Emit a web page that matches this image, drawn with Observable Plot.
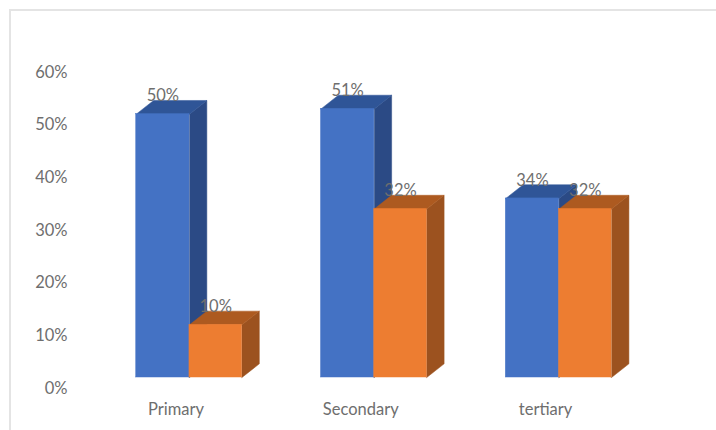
<!DOCTYPE html>
<html>
<head>
<meta charset="utf-8">
<script src="https://cdn.jsdelivr.net/npm/d3@7"></script>
<script src="https://cdn.jsdelivr.net/npm/@observablehq/plot@0.6"></script>
<style>
  html, body { margin: 0; padding: 0; background: #fff; }
  #chart { position: relative; width: 716px; height: 430px; overflow: hidden; }
  #chart svg { display: block; position: absolute; left: 0; top: 0; background: transparent; }
  #edge { position: absolute; left: 9px; top: 9px; right: -4px; bottom: -4px; border: 2px solid #e4e4e4; }
</style>
</head>
<body>
<div id="chart"><div id="edge"></div></div>
<script>
const categories = ["Primary", "Secondary", "tertiary"];
const blueValues = [50, 51, 34];
const orangeValues = [10, 32, 32];
const yTicks = [0, 10, 20, 30, 40, 50, 60];

const blueWidth = 0.288;    // group units
const orangeWidth = 0.284;  // group units
const depthX = 0.094;       // group units
const depthY = 2.6;         // percent units

const fontFamily = "Lato, 'Open Sans', sans-serif";
const grey = "#6e6e6e";

function series(values, start, width, front, top, side) {
  const bars = values.map((v, i) => ({cat: i, v, x1: i + start, x2: i + start + width}));
  const topPts = bars.flatMap(b => [
    {id: b.cat, x: b.x1, y: b.v},
    {id: b.cat, x: b.x1 + depthX, y: b.v + depthY},
    {id: b.cat, x: b.x2 + depthX, y: b.v + depthY},
    {id: b.cat, x: b.x2, y: b.v}
  ]);
  const sidePts = bars.flatMap(b => [
    {id: b.cat, x: b.x2, y: 0},
    {id: b.cat, x: b.x2 + depthX, y: depthY},
    {id: b.cat, x: b.x2 + depthX, y: b.v + depthY},
    {id: b.cat, x: b.x2, y: b.v}
  ]);
  return {bars, marks: [
    Plot.line(sidePts, {x: "x", y: "y", z: "id", fill: side, stroke: side, strokeWidth: 0.5, curve: "linear-closed"}),
    Plot.line(topPts, {x: "x", y: "y", z: "id", fill: top, stroke: top, strokeWidth: 0.5, curve: "linear-closed"}),
    Plot.rectY(bars, {x1: "x1", x2: "x2", y: "v", fill: front, stroke: front, strokeWidth: 0.5})
  ]};
}

const blue = series(blueValues, -blueWidth, blueWidth, "#4472c4", "#2f5597", "#2b4a85");
const orange = series(orangeValues, 0, orangeWidth, "#ed7d31", "#ad5a20", "#9c521f");
const labels = [...blue.bars, ...orange.bars];

const plot = Plot.plot({
  width: 716,
  height: 430,
  marginLeft: 67,
  marginRight: 0,
  marginTop: 61,
  marginBottom: 53,
  style: {fontFamily, fontSize: "16.5px", color: grey, background: "transparent"},
  x: {type: "linear", domain: [-0.66, 2.852]},
  y: {domain: [0, 60]},
  marks: [
    ...blue.marks,
    ...orange.marks,
    Plot.text(labels, {
      x: d => (d.x1 + d.x2) / 2, y: "v", text: d => d.v + "%",
      dy: -18, fill: grey, fontSize: 16.5
    }),
    Plot.axisY({
      ticks: yTicks, tickFormat: d => d + "%", tickSize: 0, tickPadding: 0,
      dy: 11, label: null, fontSize: 16.5, fill: grey
    }),
    Plot.axisX({
      ticks: [0, 1, 2], tickFormat: i => categories[i], tickSize: 0,
      dx: -13.5, tickPadding: 26, label: null, fontSize: 16.5, fill: grey
    })
  ]
});
document.getElementById("chart").appendChild(plot);
</script>
</body>
</html>
